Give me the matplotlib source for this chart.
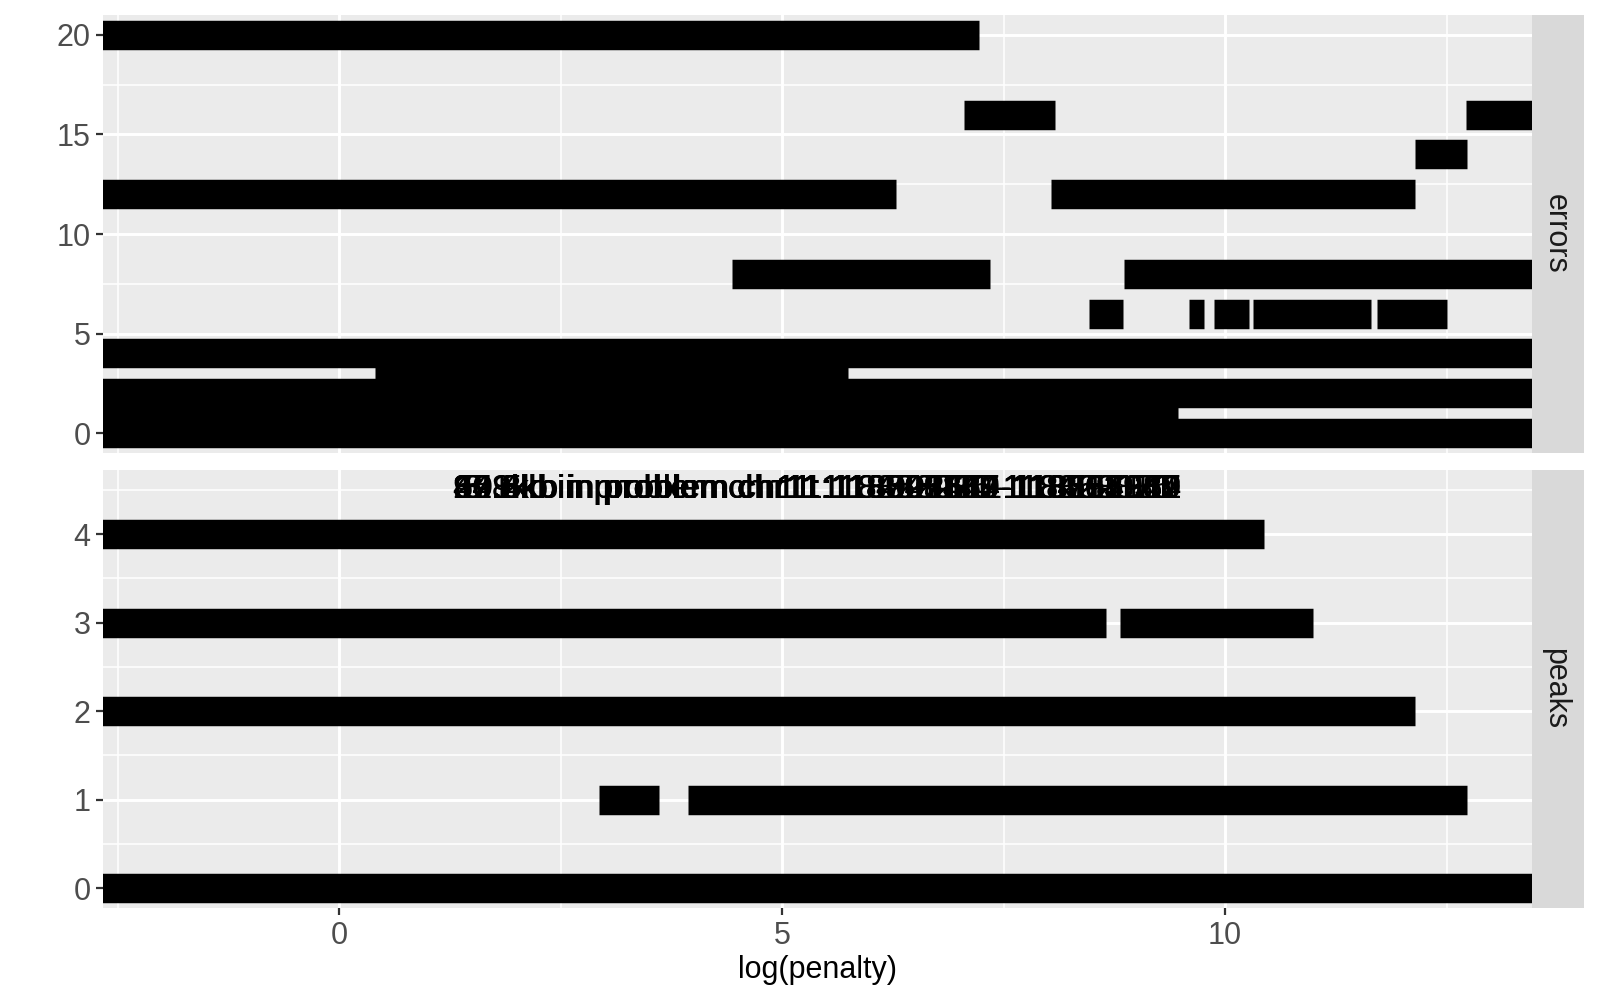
import matplotlib
matplotlib.use("Agg")
import matplotlib.pyplot as plt
from matplotlib.ticker import MultipleLocator

# segments of the "errors" facet: y value, start and end of log(penalty)
errors_y = [20, 16, 16, 14, 12, 12, 8, 8, 6, 6, 6, 6, 6, 4, 3, 2, 1, 0]
errors_x0 = [-3.0, 7.05, 12.72, 12.14, -3.0, 8.04, 4.44, 8.86,
             8.46, 9.59, 9.88, 10.32, 11.72, -3.0, 0.41, -3.0, -3.0, -3.0]
errors_x1 = [7.22, 8.08, 14.0, 12.73, 6.29, 12.14, 7.35, 14.0,
             8.85, 9.76, 10.27, 11.65, 12.51, 14.0, 5.74, 14.0, 9.47, 14.0]

# segments of the "peaks" facet
peaks_y = [4, 3, 3, 2, 1, 1, 0]
peaks_x0 = [-3.0, -3.0, 8.82, -3.0, 2.93, 3.94, -3.0]
peaks_x1 = [10.44, 8.66, 10.99, 12.14, 3.61, 12.73, 14.0]

# one label per problem, all drawn on top of each other
problem_labels = [
    "19.5kb in problem chr11:118092641-118112141",
    "8.9kb in problem chr11:118253210-118262110",
    "37.2kb in problem chr11:118349884-118387084",
    "5.1kb in problem chr11:118422975-118428075",
    "62.8kb in problem chr11:118501140-118563940",
    "24.6kb in problem chr11:118627319-118651919",
    "46.3kb in problem chr11:118708552-118754852",
    "3.8kb in problem chr11:118866031-118869831",
    "90.4kb in problem chr11:118905487-118995887",
]
label_x = 5.4
label_y = 4.5

x_limits = (-2.664, 13.465)
errors_limits = (-1.0, 21.0)
peaks_limits = (-0.225, 4.725)

FONT = "Liberation Sans"
BG = "#EBEBEB"


def style_panel(ax, ylim, ymajor, show_x):
    ax.set_facecolor(BG)
    ax.set_xlim(*x_limits)
    ax.set_ylim(*ylim)
    for s in ax.spines.values():
        s.set_visible(False)
    ax.xaxis.set_major_locator(MultipleLocator(5))
    ax.xaxis.set_minor_locator(MultipleLocator(2.5))
    ax.yaxis.set_major_locator(MultipleLocator(ymajor))
    ax.yaxis.set_minor_locator(MultipleLocator(ymajor / 2))
    ax.grid(which="major", color="white", linewidth=2.1)
    ax.grid(which="minor", color="white", linewidth=1.1)
    ax.set_axisbelow(True)
    ax.tick_params(which="major", direction="out", length=5, width=1.6,
                   color="#333333", labelcolor="#4D4D4D", labelsize=22, pad=4)
    ax.tick_params(which="minor", length=0)
    if not show_x:
        ax.tick_params(axis="x", which="both", bottom=False, labelbottom=False)
    for lab in ax.get_xticklabels() + ax.get_yticklabels():
        lab.set_fontfamily(FONT)


def add_strip(fig, rect, text):
    sax = fig.add_axes(rect)
    sax.set_facecolor("#D9D9D9")
    sax.set_xticks([])
    sax.set_yticks([])
    for s in sax.spines.values():
        s.set_visible(False)
    sax.text(0.45, 0.5, text, rotation=-90, ha="center", va="center",
             fontsize=22, color="#1A1A1A", family=FONT, transform=sax.transAxes)


fig = plt.figure(figsize=(16, 10), dpi=100)

ax_err = fig.add_axes([103 / 1600, 1 - 453 / 1000, 1429 / 1600, 438 / 1000])
ax_pk = fig.add_axes([103 / 1600, 1 - 908 / 1000, 1429 / 1600, 438 / 1000])

ax_err.hlines(errors_y, errors_x0, errors_x1, color="black",
              linewidth=21.2, capstyle="butt")
ax_pk.hlines(peaks_y, peaks_x0, peaks_x1, color="black",
             linewidth=21.2, capstyle="butt")
for lab in problem_labels:
    ax_pk.text(label_x, label_y, lab, ha="center", va="center",
               fontsize=24.8, family=FONT, color="black")

style_panel(ax_err, errors_limits, 5, False)
style_panel(ax_pk, peaks_limits, 1, True)

ax_pk.set_xlabel("log(penalty)", fontsize=22, family=FONT, color="black", labelpad=3)

add_strip(fig, [1532 / 1600, 1 - 453 / 1000, 52 / 1600, 438 / 1000], "errors")
add_strip(fig, [1532 / 1600, 1 - 908 / 1000, 52 / 1600, 438 / 1000], "peaks")

fig.savefig("out.png", dpi=100, facecolor="white")
